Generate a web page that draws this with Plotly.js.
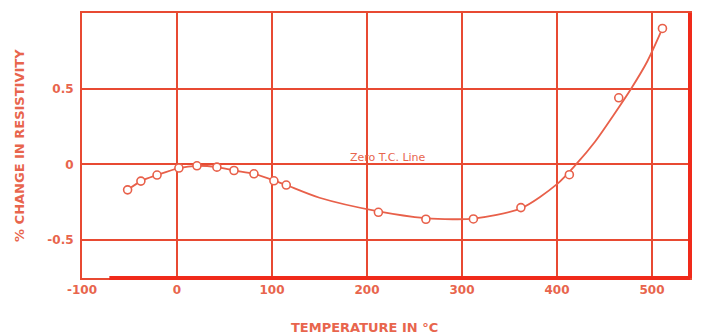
<!DOCTYPE html>
<html>
<head>
<meta charset="utf-8">
<script src="https://cdn.plot.ly/plotly-3.0.1.min.js"></script>
<style>html,body{margin:0;padding:0;background:#fff;}#chart{width:701px;height:334px;}</style>
</head>
<body>
<div id="chart"></div>
<script>
// Measured points (temperature °C, % change in resistivity)
const tempPoints = [-52, -38, -21, 2, 21, 42, 60, 81, 102, 115, 212, 262, 312, 362, 413, 465, 511];
const resPoints  = [-0.168, -0.11, -0.07, -0.024, -0.009, -0.018, -0.04, -0.062, -0.108, -0.136, -0.316, -0.362, -0.36, -0.285, -0.068, 0.44, 0.898];

// Smooth fitted curve drawn through the data
const curveTemp = [-52, -38, -21, 2, 21, 42, 60, 81, 102, 115, 150, 212, 262, 290, 312, 362, 400, 420, 440, 460, 478, 495, 511];
const curveRes  = [-0.168, -0.11, -0.07, -0.024, -0.009, -0.018, -0.04, -0.062, -0.105, -0.136, -0.22, -0.31, -0.355, -0.362, -0.358, -0.29, -0.13, 0.0, 0.15, 0.33, 0.5, 0.68, 0.898];

const xTicks = [-100, 0, 100, 200, 300, 400, 500];
const yTicks = [-0.5, 0, 0.5];
const yTickLabels = ['-0.5', '0', '0.5'];

const gridRed = '#e84a32';
const textRed = '#e8654d';
const lineRed = '#e8604a';

const traces = [
  {x: curveTemp, y: curveRes, type: 'scatter', mode: 'lines',
   line: {color: lineRed, width: 1.8, shape: 'spline', smoothing: 0.8}, hoverinfo: 'skip'},
  {x: tempPoints, y: resPoints, type: 'scatter', mode: 'markers',
   marker: {symbol: 'circle', size: 8, color: '#ffffff', line: {color: lineRed, width: 1.6}}}
];

const layout = {
  width: 701, height: 334,
  margin: {l: 82, r: 11, t: 13, b: 56},
  paper_bgcolor: '#ffffff', plot_bgcolor: '#ffffff',
  showlegend: false,
  font: {family: 'DejaVu Sans, sans-serif', color: textRed, size: 12},
  xaxis: {
    range: [-100, 540], tickvals: xTicks, ticktext: xTicks.map(String),
    showgrid: true, gridcolor: gridRed, gridwidth: 2,
    zeroline: false, showline: true, linecolor: gridRed, linewidth: 2, mirror: true,
    ticks: '', tickfont: {size: 12, color: textRed, weight: 'bold'}, fixedrange: true
  },
  yaxis: {
    range: [-0.75, 1.0], tickvals: yTicks, ticktext: yTickLabels,
    showgrid: true, gridcolor: gridRed, gridwidth: 2,
    zeroline: false, showline: true, linecolor: gridRed, linewidth: 2, mirror: true,
    ticks: '', ticklabelstandoff: 4, tickfont: {size: 12, color: textRed, weight: 'bold'}, fixedrange: true
  },
  shapes: [
    {type: 'line', xref: 'paper', yref: 'paper', x0: 0.045, x1: 1.0, y0: 0, y1: 0,
     line: {color: '#f02a1a', width: 4}},
    {type: 'line', xref: 'paper', yref: 'paper', x0: 1.0, x1: 1.0, y0: 0, y1: 1,
     line: {color: '#f02a1a', width: 4}}
  ],
  annotations: [
    {text: 'Zero T.C. Line', x: 222, y: 0.045, xref: 'x', yref: 'y', showarrow: false,
     font: {size: 11, color: textRed}, xanchor: 'center', yanchor: 'middle'},
    {text: '% CHANGE IN RESISTIVITY', xref: 'paper', yref: 'paper', x: -0.102, y: 0.502,
     textangle: -90, showarrow: false, xanchor: 'center', yanchor: 'middle',
     font: {size: 13, color: textRed, weight: 'bold'}},
    {text: 'TEMPERATURE IN °C', xref: 'paper', yref: 'paper', x: 0.465, y: -0.185,
     showarrow: false, xanchor: 'center', yanchor: 'middle',
     font: {size: 13, color: textRed, weight: 'bold'}}
  ]
};

Plotly.newPlot('chart', traces, layout, {displayModeBar: false, staticPlot: true});
</script>
</body>
</html>
